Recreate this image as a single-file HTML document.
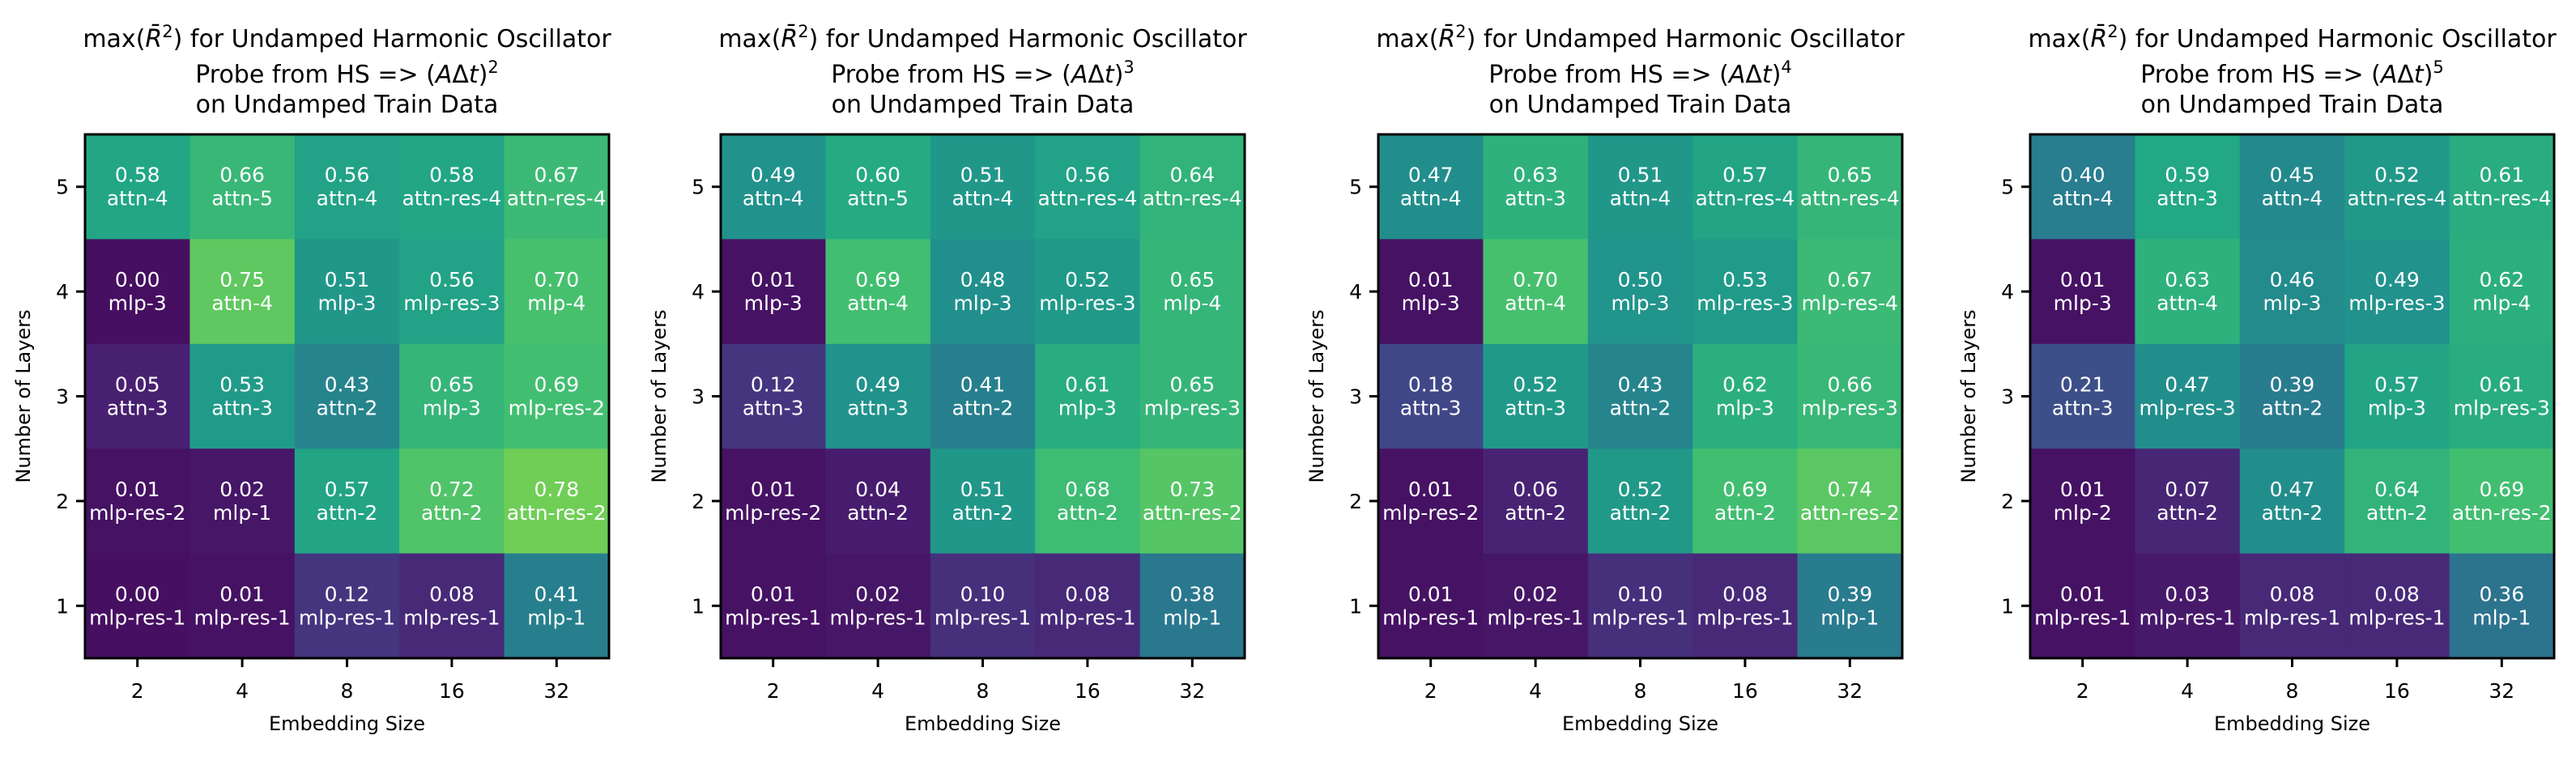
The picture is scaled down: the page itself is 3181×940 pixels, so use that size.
<!DOCTYPE html>
<html><head><meta charset="utf-8"><style>
html,body{margin:0;padding:0;background:#fff;}
svg{display:block;font-family:"DejaVu Sans","Liberation Sans",sans-serif;}
</style></head><body>
<svg id="chart" width="3181" height="940" viewBox="0 0 3181 940" xmlns="http://www.w3.org/2000/svg"></svg>
<script>
const categories = ["2","4","8","16","32"];
const layerTicks = ["1","2","3","4","5"];
const powers = ["2","3","4","5"];
// values rows: layer 5 down to layer 1
const values1 = [[0.58,0.66,0.56,0.58,0.67],[0.00,0.75,0.51,0.56,0.70],[0.05,0.53,0.43,0.65,0.69],[0.01,0.02,0.57,0.72,0.78],[0.00,0.01,0.12,0.08,0.41]];
const labels1 = [["attn-4","attn-5","attn-4","attn-res-4","attn-res-4"],["mlp-3","attn-4","mlp-3","mlp-res-3","mlp-4"],["attn-3","attn-3","attn-2","mlp-3","mlp-res-2"],["mlp-res-2","mlp-1","attn-2","attn-2","attn-res-2"],["mlp-res-1","mlp-res-1","mlp-res-1","mlp-res-1","mlp-1"]];
const values2 = [[0.49,0.60,0.51,0.56,0.64],[0.01,0.69,0.48,0.52,0.65],[0.12,0.49,0.41,0.61,0.65],[0.01,0.04,0.51,0.68,0.73],[0.01,0.02,0.10,0.08,0.38]];
const labels2 = [["attn-4","attn-5","attn-4","attn-res-4","attn-res-4"],["mlp-3","attn-4","mlp-3","mlp-res-3","mlp-4"],["attn-3","attn-3","attn-2","mlp-3","mlp-res-3"],["mlp-res-2","attn-2","attn-2","attn-2","attn-res-2"],["mlp-res-1","mlp-res-1","mlp-res-1","mlp-res-1","mlp-1"]];
const values3 = [[0.47,0.63,0.51,0.57,0.65],[0.01,0.70,0.50,0.53,0.67],[0.18,0.52,0.43,0.62,0.66],[0.01,0.06,0.52,0.69,0.74],[0.01,0.02,0.10,0.08,0.39]];
const labels3 = [["attn-4","attn-3","attn-4","attn-res-4","attn-res-4"],["mlp-3","attn-4","mlp-3","mlp-res-3","mlp-res-4"],["attn-3","attn-3","attn-2","mlp-3","mlp-res-3"],["mlp-res-2","attn-2","attn-2","attn-2","attn-res-2"],["mlp-res-1","mlp-res-1","mlp-res-1","mlp-res-1","mlp-1"]];
const values4 = [[0.40,0.59,0.45,0.52,0.61],[0.01,0.63,0.46,0.49,0.62],[0.21,0.47,0.39,0.57,0.61],[0.01,0.07,0.47,0.64,0.69],[0.01,0.03,0.08,0.08,0.36]];
const labels4 = [["attn-4","attn-3","attn-4","attn-res-4","attn-res-4"],["mlp-3","attn-4","mlp-3","mlp-res-3","mlp-4"],["attn-3","mlp-res-3","attn-2","mlp-3","mlp-res-3"],["mlp-2","attn-2","attn-2","attn-2","attn-res-2"],["mlp-res-1","mlp-res-1","mlp-res-1","mlp-res-1","mlp-1"]];

const allValues=[values1,values2,values3,values4];
const allLabels=[labels1,labels2,labels3,labels4];
const panelLefts=[105,890,1702,2507];
const TOP=166, SIZE=647;
const VIR=["#440154","#482475","#414487","#355f8d","#2a788e","#21918c","#22a884","#44bf70","#7ad151","#bddf26","#fde725"];
function hex(h){return [1,3,5].map(i=>parseInt(h.substr(i,2),16));}
function color(v){v=0.04+0.95*v;v=Math.max(0,Math.min(1,v));const t=v*10,i=Math.min(9,Math.floor(t)),f=t-i;
 const a=hex(VIR[i]),b=hex(VIR[i+1]);return "rgb("+a.map((x,k)=>Math.round(x+(b[k]-x)*f)).join(",")+")";}
const NS="http://www.w3.org/2000/svg";
const svg=document.getElementById('chart');
function mk(tag,attrs,parent,txt){const e=document.createElementNS(NS,tag);for(const k in attrs)e.setAttribute(k,attrs[k]);if(txt!==undefined)e.textContent=txt;(parent||svg).appendChild(e);return e;}
for(let p=0;p<4;p++){
 const L=panelLefts[p], cw=SIZE/categories.length, ch=SIZE/layerTicks.length;
 const xScale=i=>L+cw*(i+0.5);
 const yScale=layer=>TOP+SIZE-ch*(layer-0.5);
 const g=mk('g',{});
 
 
 const vals=allValues[p], labs=allLabels[p];
 for(let r=0;r<vals.length;r++){
  const layer=vals.length-r;
  for(let c=0;c<categories.length;c++){
   const cx=xScale(c), cy=yScale(layer);
   const rect=mk('rect',{x:cx-cw/2,y:cy-ch/2,width:cw+0.5,height:ch+0.5,fill:color(vals[r][c])},g);
   
   
   const t=mk('text',{x:cx,y:cy-6,'text-anchor':'middle','font-size':25,fill:'#fff'},g,vals[r][c].toFixed(2));
   
   
   const t2=mk('text',{x:cx,y:cy+23,'text-anchor':'middle','font-size':25,fill:'#fff'},g,labs[r][c]);
   
   
  }
 }
 const fr=mk('rect',{x:L,y:TOP,width:SIZE,height:SIZE,fill:'none',stroke:'#000','stroke-width':3},g);
 
 
 categories.forEach((c,i)=>{const x=xScale(i);
  mk('line',{x1:x,x2:x,y1:TOP+SIZE,y2:TOP+SIZE+11,stroke:'#000','stroke-width':3},g);
  const t=mk('text',{x:x,y:TOP+SIZE+49,'text-anchor':'middle','font-size':25,fill:'#000'},g,c);
  
  });
 layerTicks.forEach((c,i)=>{const y=yScale(+c);
  mk('line',{x1:L-11,x2:L,y1:y,y2:y,stroke:'#000','stroke-width':3},g);
  const t=mk('text',{x:L-20,y:y+9,'text-anchor':'end','font-size':25,fill:'#000'},g,c);
  
  });
 const xl=mk('text',{x:L+SIZE/2,y:902,'text-anchor':'middle','font-size':24,fill:'#000'},g,'Embedding Size');
 
 
 const yl=mk('text',{x:0,y:0,transform:'translate('+(L-68)+','+(TOP+SIZE/2)+') rotate(-90)','text-anchor':'middle','font-size':24,fill:'#000'},g,'Number of Layers');
 
 
 const cx=L+SIZE/2;
 const t1=mk('text',{x:cx,y:58,'text-anchor':'middle','font-size':30,fill:'#000'},g);
 
 
 mk('tspan',{},t1,'max(');
 mk('tspan',{'font-style':'italic'},t1,'R\u0304');
 mk('tspan',{'font-size':21,dy:-12},t1,'2');
 mk('tspan',{dy:12},t1,') for Undamped Harmonic Oscillator');
 const t2=mk('text',{x:cx,y:102,'text-anchor':'middle','font-size':30,fill:'#000'},g);
 
 
 mk('tspan',{},t2,'Probe from HS => (');
 mk('tspan',{'font-style':'italic'},t2,'A');
 mk('tspan',{},t2,'\u0394');
 mk('tspan',{'font-style':'italic'},t2,'t');
 mk('tspan',{},t2,')');
 mk('tspan',{'font-size':21,dy:-12},t2,powers[p]);
 const t3=mk('text',{x:cx,y:139,'text-anchor':'middle','font-size':30,fill:'#000'},g,'on Undamped Train Data');
 
 
}
</script>
</body></html>
